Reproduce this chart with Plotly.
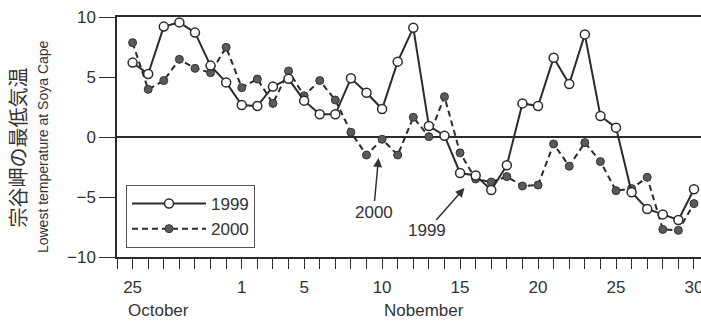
import plotly.graph_objects as go

# ---- data ----
days = list(range(37))  # 0 = Oct 25 ... 36 = Nov 30
tick_vals = [0, 7, 11, 16, 21, 26, 31, 36]
tick_text = ["25", "1", "5", "10", "15", "20", "25", "30"]
y_ticks = [-10, -5, 0, 5, 10]

t1999 = [6.2, 5.25, 9.2, 9.55, 8.7, 5.95, 4.55, 2.67, 2.58, 4.2, 4.85, 3.03, 1.89, 1.89,
         4.89, 3.69, 2.33, 6.28, 9.1, 0.92, 0.11, -3.0, -3.2, -4.42, -2.36, 2.8, 2.58,
         6.6, 4.42, 8.55, 1.75, 0.78, -4.6, -6.0, -6.45, -6.92, -4.36]
t2000 = [7.86, 3.97, 4.7, 6.47, 5.72, 5.36, 7.47, 4.11, 4.83, 2.8, 5.5, 3.44, 4.7, 3.08,
         0.39, -1.5, -0.19, -1.5, 1.64, 0.03, 3.36, -1.32, -3.5, -3.75, -3.3, -4.08, -4.0,
         -0.58, -2.43, -0.47, -2.05, -4.47, -4.3, -3.36, -7.7, -7.78, -5.55]

ink = "#2b2b2b"
font_main = "Liberation Sans, Arial, sans-serif"

fig = go.Figure()
fig.add_trace(go.Scatter(
    x=days, y=t2000, name="2000", mode="lines+markers", legendrank=2,
    line=dict(color=ink, width=2, dash="6px,4px"),
    marker=dict(symbol="circle", size=8, color="#5a5a5a", line=dict(color="#333", width=1)),
))
fig.add_trace(go.Scatter(
    x=days, y=t1999, name="1999", mode="lines+markers", legendrank=1,
    line=dict(color=ink, width=2),
    marker=dict(symbol="circle", size=9, color="white", line=dict(color=ink, width=1.5)),
))

fig.update_layout(
    width=701, height=322,
    margin=dict(l=117, r=0, t=17, b=65, autoexpand=False),
    paper_bgcolor="white", plot_bgcolor="white",
    font=dict(family=font_main, size=17, color="#333"),
    showlegend=True,
    legend=dict(
        x=0.0154, y=0.30, xanchor="left", yanchor="top",
        bordercolor="#555", borderwidth=1, bgcolor="white",
        itemwidth=74, font=dict(size=17, color="#333"),
        tracegroupgap=0,
    ),
    xaxis=dict(
        range=[-1, 36.45], showgrid=False, zeroline=False, automargin=False,
        showline=True, linecolor=ink, linewidth=1.5, mirror=True,
        ticks="outside", ticklen=10, tickwidth=1.2, tickcolor=ink,
        tickvals=tick_vals, ticktext=tick_text, ticklabelstandoff=4,
        ticklabeloverflow="allow",
        minor=dict(dtick=1, tick0=0, ticks="outside", ticklen=10, tickwidth=1.2,
                   tickcolor=ink, showgrid=False),
    ),
    yaxis=dict(
        range=[-10, 10], showgrid=False, automargin=False,
        zeroline=True, zerolinecolor=ink, zerolinewidth=1.5,
        showline=True, linecolor=ink, linewidth=1.5,
        ticks="outside", ticklen=16, tickwidth=1.2, tickcolor=ink,
        tickvals=y_ticks, ticklabeloverflow="allow",
    ),
)

# month labels
fig.add_annotation(text="October", x=-0.45, y=-0.221, xref="x", yref="paper",
                   xanchor="left", yanchor="middle", showarrow=False,
                   font=dict(size=17, color="#333"))
fig.add_annotation(text="Nobember", x=16.0, y=-0.221, xref="x", yref="paper",
                   xanchor="left", yanchor="middle", showarrow=False,
                   font=dict(size=17, color="#333"))

# y-axis titles
fig.add_annotation(text="宗谷岬の最低気温", x=-0.172, y=0.454, xref="paper", yref="paper",
                   textangle=-90, showarrow=False, xanchor="center", yanchor="middle",
                   font=dict(family="Noto Sans CJK JP", size=20, color="#333"))
fig.add_annotation(text="Lowest temperature at Soya Cape", x=-0.1267, y=0.458,
                   xref="paper", yref="paper", textangle=-90, showarrow=False,
                   xanchor="center", yanchor="middle",
                   font=dict(size=14, color="#333"))

# arrow annotations
fig.add_annotation(text="2000", x=15.77, y=-1.75, ax=15.45, ay=-6.25,
                   axref="x", ayref="y", xref="x", yref="y",
                   showarrow=True, arrowhead=2, arrowsize=1.2, arrowwidth=1.5,
                   arrowcolor="#333", font=dict(size=17, color="#333"))
fig.add_annotation(text="1999", x=21.28, y=-4.25, ax=18.85, ay=-7.83,
                   axref="x", ayref="y", xref="x", yref="y",
                   showarrow=True, arrowhead=2, arrowsize=1.2, arrowwidth=1.5,
                   arrowcolor="#333", font=dict(size=17, color="#333"))

fig.write_html("out.html", config={"displayModeBar": False},
               post_script="document.body.style.margin='0';document.body.style.overflow='hidden';")
